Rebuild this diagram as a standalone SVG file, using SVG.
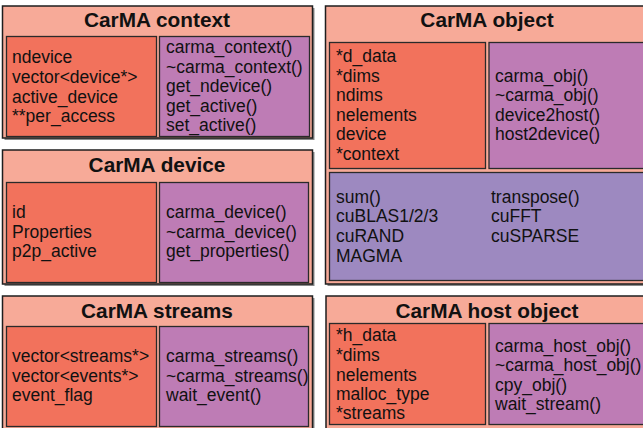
<svg xmlns="http://www.w3.org/2000/svg" width="643" height="428" viewBox="0 0 643 428">
<style>
.sh{fill:#8a8a8a;}
.outer{fill:#F7AA98;stroke:#1e1e1e;stroke-width:1.5;}
.attr{fill:#F2725C;stroke:#2a2a2a;stroke-width:1.3;}
.meth{fill:#BE7CB5;stroke:#2a2a2a;stroke-width:1.3;}
.lib{fill:#9D89C0;stroke:#2a2a2a;stroke-width:1.3;}
.ttl{font-family:"Liberation Sans",Arial,sans-serif;font-weight:bold;font-size:20.8px;fill:#111;text-anchor:middle;}
.t{font-family:"Liberation Sans",Arial,sans-serif;font-size:17.5px;fill:#111;}
</style>
<rect width="643" height="428" fill="#ffffff"/>
<g id="carma-context">
<rect class="sh" x="4.5" y="8" width="310" height="132"/>
<rect class="outer" x="2.5" y="6" width="310" height="132"/>
<text class="ttl" x="157" y="27">CarMA context</text>
<rect class="attr" x="6.5" y="36.5" width="150" height="100"/>
<rect class="meth" x="159.5" y="36.5" width="150" height="100"/>
<text class="t" x="12" y="63">ndevice</text>
<text class="t" x="12" y="83">vector&lt;device*&gt;</text>
<text class="t" x="12" y="103">active_device</text>
<text class="t" x="12" y="122">**per_access</text>
<text class="t" x="166" y="53">carma_context()</text>
<text class="t" x="166" y="73">~carma_context()</text>
<text class="t" x="166" y="92">get_ndevice()</text>
<text class="t" x="166" y="112">get_active()</text>
<text class="t" x="166" y="131">set_active()</text>
</g>
<g id="carma-device">
<rect class="sh" x="4.5" y="152" width="310" height="134"/>
<rect class="outer" x="2.5" y="150" width="310" height="134"/>
<text class="ttl" x="157" y="172">CarMA device</text>
<rect class="attr" x="6.5" y="182.5" width="150" height="100"/>
<rect class="meth" x="159.5" y="182.5" width="149" height="100"/>
<text class="t" x="12" y="218">id</text>
<text class="t" x="12" y="238">Properties</text>
<text class="t" x="12" y="257">p2p_active</text>
<text class="t" x="166" y="218">carma_device()</text>
<text class="t" x="166" y="238">~carma_device()</text>
<text class="t" x="166" y="257">get_properties()</text>
</g>
<g id="carma-streams">
<rect class="sh" x="4.5" y="298" width="310" height="140"/>
<rect class="outer" x="2.5" y="296" width="310" height="140"/>
<text class="ttl" x="157" y="318">CarMA streams</text>
<rect class="attr" x="6.5" y="326.5" width="150" height="100"/>
<rect class="meth" x="159.5" y="326.5" width="149" height="100"/>
<text class="t" x="12" y="362">vector&lt;streams*&gt;</text>
<text class="t" x="12" y="382">vector&lt;events*&gt;</text>
<text class="t" x="12" y="401">event_flag</text>
<text class="t" x="166" y="362">carma_streams()</text>
<text class="t" x="166" y="382">~carma_streams()</text>
<text class="t" x="166" y="401">wait_event()</text>
</g>
<g id="carma-object">
<rect class="sh" x="327.5" y="8" width="330" height="278"/>
<rect class="outer" x="325.5" y="6" width="330" height="278"/>
<text class="ttl" x="487" y="27">CarMA object</text>
<rect class="attr" x="329.5" y="42.5" width="156" height="126"/>
<rect class="meth" x="489" y="42.5" width="160" height="126"/>
<rect class="lib" x="329.5" y="172.5" width="320" height="108"/>
<text class="t" x="336" y="62">*d_data</text>
<text class="t" x="336" y="82">*dims</text>
<text class="t" x="336" y="101">ndims</text>
<text class="t" x="336" y="121">nelements</text>
<text class="t" x="336" y="140">device</text>
<text class="t" x="336" y="160">*context</text>
<text class="t" x="495" y="82">carma_obj()</text>
<text class="t" x="495" y="101">~carma_obj()</text>
<text class="t" x="495" y="121">device2host()</text>
<text class="t" x="495" y="140">host2device()</text>
<text class="t" x="336" y="203">sum()</text>
<text class="t" x="336" y="222">cuBLAS1/2/3</text>
<text class="t" x="336" y="242">cuRAND</text>
<text class="t" x="336" y="262">MAGMA</text>
<text class="t" x="491" y="203">transpose()</text>
<text class="t" x="491" y="222">cuFFT</text>
<text class="t" x="491" y="242">cuSPARSE</text>
</g>
<g id="carma-host-object">
<rect class="sh" x="328" y="298" width="330" height="140"/>
<rect class="outer" x="326" y="296" width="330" height="140"/>
<text class="ttl" x="487" y="318">CarMA host object</text>
<rect class="attr" x="329.5" y="323.5" width="156" height="101"/>
<rect class="meth" x="489" y="323.5" width="160" height="101"/>
<text class="t" x="336" y="341">*h_data</text>
<text class="t" x="336" y="361">*dims</text>
<text class="t" x="336" y="381">nelements</text>
<text class="t" x="336" y="400">malloc_type</text>
<text class="t" x="336" y="419">*streams</text>
<text class="t" x="495" y="352">carma_host_obj()</text>
<text class="t" x="495" y="371">~carma_host_obj()</text>
<text class="t" x="495" y="391">cpy_obj()</text>
<text class="t" x="495" y="410">wait_stream()</text>
</g>
<g id="connectors"></g>
</svg>
